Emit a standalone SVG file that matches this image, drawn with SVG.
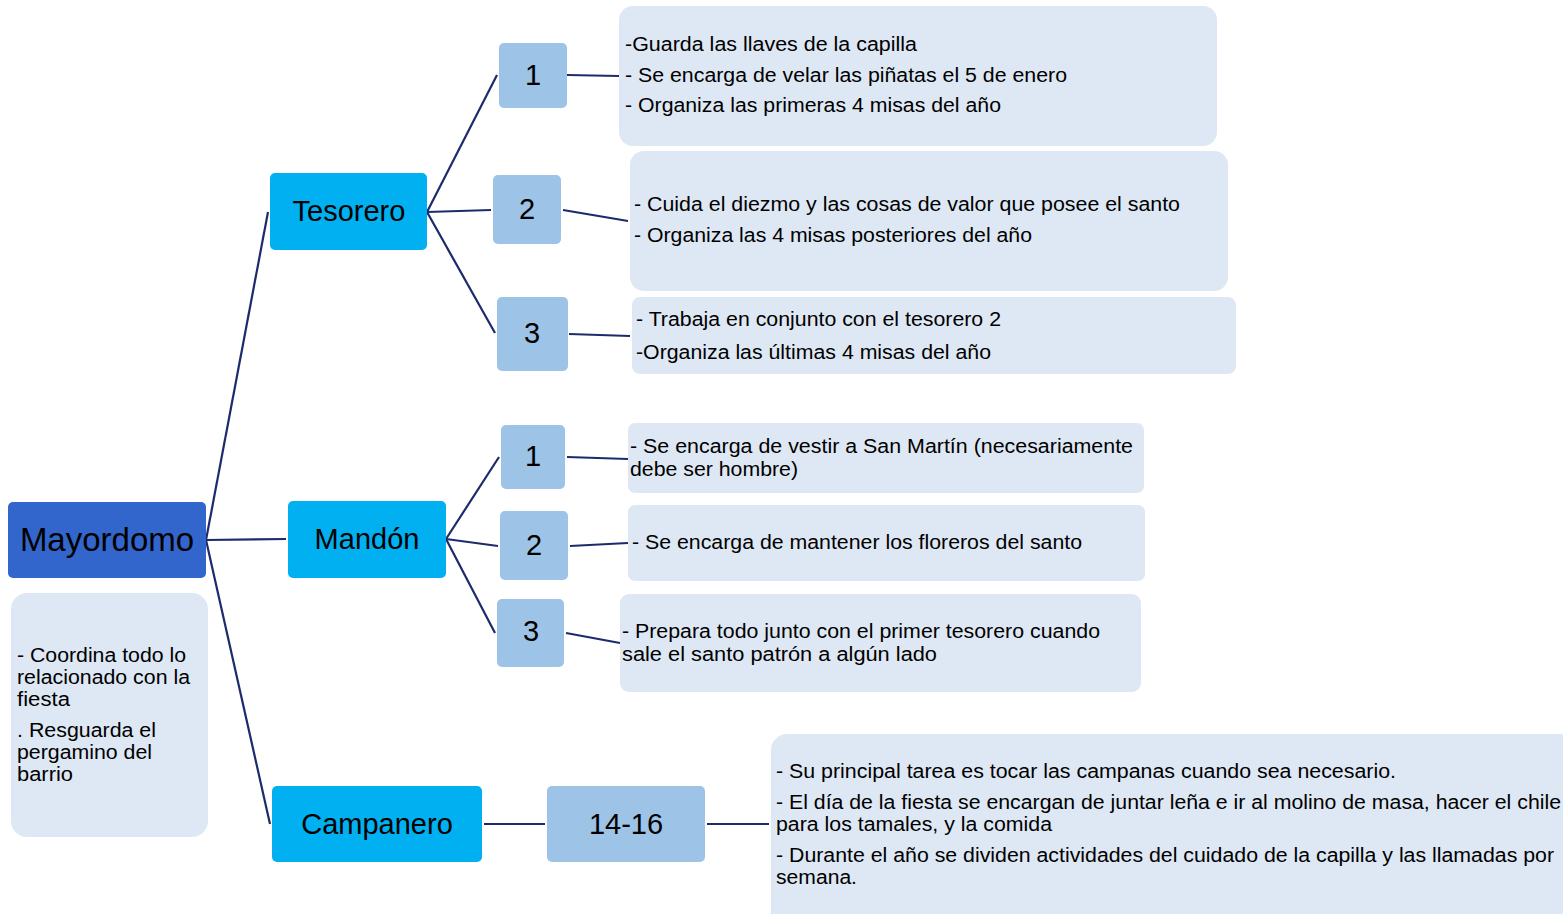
<svg xmlns="http://www.w3.org/2000/svg" width="1563" height="914" viewBox="0 0 1563 914">
<style>
.root{fill:#3366CC}
.role{fill:#00B0F0}
.num{fill:#9DC3E6}
.desc{fill:#DEE8F4}
.t{font-family:"Liberation Sans",Arial,sans-serif;fill:#000}
.big{font-size:29px;text-anchor:middle}
.d{font-size:20px}
.c{stroke:#1C2B6B;stroke-width:2.2;fill:none}
</style>
<rect width="1563" height="914" fill="#fff"/>
<g id="connectors">
<line class="c" x1="206" y1="540" x2="268" y2="212"/>
<line class="c" x1="206" y1="540" x2="286" y2="539"/>
<line class="c" x1="206" y1="540" x2="270" y2="824"/>
<line class="c" x1="427" y1="212" x2="497" y2="75"/>
<line class="c" x1="427" y1="212" x2="491" y2="210"/>
<line class="c" x1="427" y1="212" x2="495" y2="333"/>
<line class="c" x1="567" y1="75" x2="619" y2="76"/>
<line class="c" x1="563" y1="210" x2="628" y2="221"/>
<line class="c" x1="569" y1="334" x2="630" y2="336"/>
<line class="c" x1="446" y1="539" x2="499" y2="457"/>
<line class="c" x1="446" y1="539" x2="498" y2="546"/>
<line class="c" x1="446" y1="539" x2="495" y2="633"/>
<line class="c" x1="567" y1="457" x2="628" y2="459"/>
<line class="c" x1="570" y1="546" x2="628" y2="543"/>
<line class="c" x1="566" y1="633" x2="620" y2="643"/>
<line class="c" x1="484" y1="824" x2="545" y2="824"/>
<line class="c" x1="707" y1="824" x2="769" y2="824"/>
</g>
<g id="mayordomo">
<rect class="root" x="8" y="502" width="198" height="76" rx="5"/>
<text class="t" x="107" y="551" font-size="33" text-anchor="middle">Mayordomo</text>
</g>
<g id="mayordomo-desc">
<rect class="desc" x="11" y="593" width="197" height="244" rx="16"/>
<text class="t d" x="17" y="662" textLength="169" lengthAdjust="spacingAndGlyphs">- Coordina todo lo</text>
<text class="t d" x="17" y="684" textLength="173" lengthAdjust="spacingAndGlyphs">relacionado con la</text>
<text class="t d" x="17" y="706" textLength="53" lengthAdjust="spacingAndGlyphs">fiesta</text>
<text class="t d" x="17" y="737" textLength="139" lengthAdjust="spacingAndGlyphs">. Resguarda el</text>
<text class="t d" x="17" y="759" textLength="135" lengthAdjust="spacingAndGlyphs">pergamino del</text>
<text class="t d" x="17" y="781" textLength="56" lengthAdjust="spacingAndGlyphs">barrio</text>
</g>
<g id="tesorero">
<rect class="role" x="270" y="173" width="157" height="77" rx="5"/>
<text class="t big" x="349" y="221">Tesorero</text>
</g>
<g id="mandon">
<rect class="role" x="288" y="501" width="158" height="77" rx="5"/>
<text class="t big" x="367" y="549">Mandón</text>
</g>
<g id="campanero">
<rect class="role" x="272" y="786" width="210" height="76" rx="5"/>
<text class="t big" x="377" y="834">Campanero</text>
</g>
<g id="t1">
<rect class="num" x="499" y="43" width="68" height="65" rx="5"/>
<text class="t big" x="533" y="85">1</text>
</g>
<g id="t2">
<rect class="num" x="493" y="175" width="68" height="69" rx="5"/>
<text class="t big" x="527" y="219">2</text>
</g>
<g id="t3">
<rect class="num" x="497" y="297" width="71" height="74" rx="5"/>
<text class="t big" x="532" y="343">3</text>
</g>
<g id="m1">
<rect class="num" x="501" y="425" width="64" height="64" rx="5"/>
<text class="t big" x="533" y="466">1</text>
</g>
<g id="m2">
<rect class="num" x="500" y="511" width="68" height="69" rx="5"/>
<text class="t big" x="534" y="555">2</text>
</g>
<g id="m3">
<rect class="num" x="497" y="599" width="67" height="68" rx="5"/>
<text class="t big" x="531" y="641">3</text>
</g>
<g id="c1">
<rect class="num" x="547" y="786" width="158" height="76" rx="5"/>
<text class="t big" x="626" y="834">14-16</text>
</g>
<g id="t1-desc">
<rect class="desc" x="619" y="6" width="598" height="140" rx="14"/>
<text class="t d" x="625" y="51" textLength="292" lengthAdjust="spacingAndGlyphs">-Guarda las llaves de la capilla</text>
<text class="t d" x="625" y="82" textLength="442" lengthAdjust="spacingAndGlyphs">- Se encarga de velar las piñatas el 5 de enero</text>
<text class="t d" x="625" y="112" textLength="376" lengthAdjust="spacingAndGlyphs">- Organiza las primeras 4 misas del año</text>
</g>
<g id="t2-desc">
<rect class="desc" x="630" y="151" width="598" height="140" rx="14"/>
<text class="t d" x="634" y="211" textLength="546" lengthAdjust="spacingAndGlyphs">- Cuida el diezmo  y las cosas de valor que posee el santo</text>
<text class="t d" x="634" y="242" textLength="398" lengthAdjust="spacingAndGlyphs">- Organiza las 4 misas posteriores del año</text>
</g>
<g id="t3-desc">
<rect class="desc" x="632" y="297" width="604" height="77" rx="8"/>
<text class="t d" x="636" y="326" textLength="365" lengthAdjust="spacingAndGlyphs">- Trabaja en conjunto con el tesorero 2</text>
<text class="t d" x="636" y="359" textLength="355" lengthAdjust="spacingAndGlyphs">-Organiza las últimas 4 misas del año</text>
</g>
<g id="m1-desc">
<rect class="desc" x="628" y="423" width="516" height="70" rx="7"/>
<text class="t d" x="630" y="453" textLength="503" lengthAdjust="spacingAndGlyphs">- Se encarga de vestir a San Martín (necesariamente</text>
<text class="t d" x="630" y="476" textLength="168" lengthAdjust="spacingAndGlyphs">debe ser hombre)</text>
</g>
<g id="m2-desc">
<rect class="desc" x="628" y="505" width="517" height="76" rx="7"/>
<text class="t d" x="632" y="549" textLength="450" lengthAdjust="spacingAndGlyphs">- Se encarga de mantener los floreros del santo</text>
</g>
<g id="m3-desc">
<rect class="desc" x="620" y="594" width="521" height="98" rx="9"/>
<text class="t d" x="622" y="638" textLength="478" lengthAdjust="spacingAndGlyphs">- Prepara todo junto con el primer tesorero cuando</text>
<text class="t d" x="622" y="661" textLength="315" lengthAdjust="spacingAndGlyphs">sale el santo  patrón a algún lado</text>
</g>
<g id="c1-desc">
<rect class="desc" x="771" y="734" width="810" height="200" rx="16"/>
<text class="t d" x="776" y="778" textLength="620" lengthAdjust="spacingAndGlyphs">- Su principal tarea es tocar las campanas cuando sea necesario.</text>
<text class="t d" x="776" y="809" textLength="785" lengthAdjust="spacingAndGlyphs">- El día de la fiesta se encargan de juntar leña e ir al molino de masa, hacer el chile</text>
<text class="t d" x="776" y="831" textLength="276" lengthAdjust="spacingAndGlyphs">para los tamales, y la comida</text>
<text class="t d" x="776" y="862" textLength="778" lengthAdjust="spacingAndGlyphs">- Durante el año se dividen actividades del cuidado de la capilla y las llamadas  por</text>
<text class="t d" x="776" y="884" textLength="81" lengthAdjust="spacingAndGlyphs">semana.</text>
</g>
</svg>
